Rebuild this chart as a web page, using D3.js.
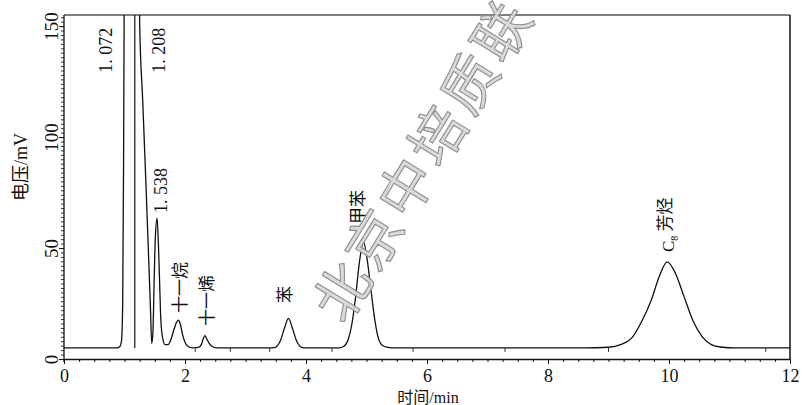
<!DOCTYPE html>
<html>
<head>
<meta charset="utf-8">
<script src="https://cdn.jsdelivr.net/npm/d3@7"></script>
<style>
  body { margin: 0; background: #fff; }
  svg { display: block; }
</style>
</head>
<body>
<svg width="810" height="405"></svg>
<script>
const times = [0, 0.88, 0.92, 0.95, 0.97, 0.985, 1.0, 1.072, 1.16, 1.208, 1.25, 1.30, 1.35, 1.40, 1.43, 1.45,
  1.47, 1.49, 1.51, 1.538, 1.56, 1.58, 1.60, 1.63, 1.67, 1.72, 1.77, 1.82, 1.86, 1.89, 1.92, 1.96, 2.00, 2.05,
  2.12, 2.22, 2.27, 2.30, 2.33, 2.36, 2.40, 2.45, 2.52, 3.45, 3.52, 3.58, 3.64, 3.71, 3.78, 3.84, 3.90, 3.97,
  4.55, 4.62, 4.70, 4.76, 4.82, 4.88, 4.95, 5.01, 5.07, 5.13, 5.19, 5.26, 5.35, 5.42, 8.6, 9.0, 9.2, 9.4, 9.55,
  9.7, 9.85, 9.97, 10.1, 10.25, 10.4, 10.55, 10.7, 10.85, 11.1, 12];
const signal = [5, 5, 5.5, 8, 25, 90, 200, 500, 320, 420, 152, 117, 82, 45, 22, 7,
  12, 35, 55, 63.5, 52, 35, 18, 9.5, 6.5, 6.5, 9, 13.5, 16.5, 17.5, 16, 11, 7.5, 5.6,
  5, 5.2, 6.5, 9, 10.5, 9, 7, 5.6, 5, 5, 5.8, 8.5, 13.5, 18.3, 13.5, 8.5, 5.8, 5,
  5, 5.6, 9, 16, 28, 43, 52.8, 45, 32, 19, 10, 6.2, 5.2, 5, 5, 5.3, 6.5, 10, 17,
  26, 38, 43.8, 39, 28, 17, 10, 6.5, 5.4, 5, 5];

const dropLines = [1.17];
const baseMarks = [2.17, 2.75, 3.40, 4.43, 5.77, 7.29, 9.0, 11.6];
const baseLevel = 5;

// étiquettes des pics : texte, temps (centre), signal (bas du texte)
const labelTexts = ['1. 072', '1. 208', '1. 538', '十一烷', '十一烯', '苯', '甲苯', 'C8 芳烃'];
const labelTimes = [0.69, 1.57, 1.59, 1.92, 2.36, 3.65, 4.86, 9.98];
const labelLevels = [129, 129, 65.8, 20.7, 14.9, 25.2, 60.8, 48.2];

const xTicks = [0, 2, 4, 6, 8, 10, 12];
const yTicks = [0, 50, 100, 150];

const svg = d3.select('svg');
const mLeft = 64, mRight = 790, mTop = 15, mBottom = 359;

const x = d3.scaleLinear().domain([0, 12]).range([mLeft, mRight]);
const y = d3.scaleLinear().domain([0, 155]).range([mBottom, mTop]);

const serif = '"Liberation Serif", "Times New Roman", serif';
const cjk = '"Liberation Serif", "Noto Sans CJK SC", serif';

svg.append('clipPath').attr('id', 'clip')
  .append('rect')
  .attr('x', mLeft).attr('y', mTop)
  .attr('width', mRight - mLeft).attr('height', mBottom - mTop);

// cadre
svg.append('line')
  .attr('x1', mLeft).attr('x2', mRight).attr('y1', mTop).attr('y2', mTop)
  .attr('stroke', '#555').attr('stroke-width', 1.5);
svg.append('line')
  .attr('x1', mRight).attr('x2', mRight).attr('y1', mTop).attr('y2', mBottom)
  .attr('stroke', '#111').attr('stroke-width', 1.5);

// axe x
const xMinor = svg.append('g')
  .attr('transform', `translate(0,${mBottom})`)
  .call(d3.axisBottom(x).tickValues(d3.range(0, 12.01, 0.25)).tickSize(3).tickFormat(''));
xMinor.select('.domain').remove();
xMinor.selectAll('line').attr('stroke', '#111');

const xAxis = svg.append('g')
  .attr('transform', `translate(0,${mBottom})`)
  .call(d3.axisBottom(x).tickValues(xTicks).tickSize(5).tickSizeOuter(0));
xAxis.select('.domain').attr('stroke', '#111').attr('stroke-width', 1.3);
xAxis.selectAll('line').attr('stroke', '#111');
xAxis.selectAll('text')
  .attr('y', 17).attr('dy', '0.35em')
  .attr('font-family', serif).attr('font-size', 18).attr('fill', '#111');

// axe y
const yMinor = svg.append('g')
  .attr('transform', `translate(${mLeft},0)`)
  .call(d3.axisLeft(y).tickValues(d3.range(0, 155, 2)).tickSize(3).tickFormat(''));
yMinor.select('.domain').remove();
yMinor.selectAll('line').attr('stroke', '#333');

const yAxis = svg.append('g')
  .attr('transform', `translate(${mLeft},0)`)
  .call(d3.axisLeft(y).tickValues(yTicks).tickSize(5).tickSizeOuter(0));
yAxis.select('.domain').attr('stroke', '#111').attr('stroke-width', 1.3)
  .attr('d', `M0,${mTop}V${mBottom + 3}`);
yAxis.selectAll('line').attr('stroke', '#111');
yAxis.selectAll('text')
  .attr('transform', 'rotate(-90)')
  .attr('x', 0).attr('y', -13).attr('dy', '0.35em')
  .attr('text-anchor', 'middle')
  .attr('font-family', serif).attr('font-size', 19).attr('fill', '#111');

// titres des axes
svg.append('text')
  .attr('transform', 'translate(21,167) rotate(-90)')
  .attr('text-anchor', 'middle').attr('dy', '0.35em')
  .attr('font-family', cjk).attr('font-size', 18).attr('fill', '#111')
  .text('电压/mV');

svg.append('text')
  .attr('x', 428).attr('y', 397).attr('dy', '0.35em')
  .attr('text-anchor', 'middle')
  .attr('font-family', cjk).attr('font-size', 16).attr('fill', '#111')
  .text('时间/min');

// signal
const plot = svg.append('g').attr('clip-path', 'url(#clip)');

const points = times.map((t, i) => [t, signal[i]]);
const line = d3.line()
  .x(d => x(d[0]))
  .y(d => y(d[1]))
  .curve(d3.curveMonotoneX);

plot.append('path')
  .datum(points)
  .attr('fill', 'none')
  .attr('stroke', '#111')
  .attr('stroke-width', 1.3)
  .attr('d', line);

plot.selectAll('.drop')
  .data(dropLines)
  .join('line')
  .attr('x1', d => x(d)).attr('x2', d => x(d))
  .attr('y1', y(baseLevel)).attr('y2', mTop)
  .attr('stroke', '#111').attr('stroke-width', 1.2);

plot.selectAll('.mark')
  .data(baseMarks)
  .join('line')
  .attr('x1', d => x(d)).attr('x2', d => x(d))
  .attr('y1', y(baseLevel)).attr('y2', y(baseLevel) + 4)
  .attr('stroke', '#333').attr('stroke-width', 1);

// étiquettes
labelTexts.forEach((txt, i) => {
  const isNum = /^[0-9]/.test(txt);
  const t = svg.append('text')
    .attr('transform', `translate(${x(labelTimes[i])},${y(labelLevels[i])}) rotate(-90)`)
    .attr('text-anchor', 'start')
    .attr('dy', '0.35em')
    .attr('font-family', isNum ? serif : cjk)
    .attr('font-size', isNum ? 18 : 17)
    .attr('fill', '#111');
  if (txt.startsWith('C8')) {
    t.append('tspan').text('C');
    t.append('tspan').attr('font-size', 10).attr('dy', '0.45em').text('8');
    t.append('tspan').attr('dy', '-0.45em').text(' 芳烃');
  } else {
    t.text(txt);
  }
});

// filigrane
svg.append('text')
  .attr('transform', 'translate(424,160) rotate(-58.5)')
  .attr('text-anchor', 'middle')
  .attr('dy', '0.35em')
  .attr('font-family', '"Noto Sans CJK SC", sans-serif')
  .attr('font-weight', 400)
  .attr('font-size', 56)
  .attr('letter-spacing', 5)
  .attr('fill', '#d6d6d6')
  .attr('fill-opacity', 0.9)
  .attr('stroke', '#8e8e8e')
  .attr('stroke-width', 1.1)
  .text('北京中培质联');
</script>
</body>
</html>
